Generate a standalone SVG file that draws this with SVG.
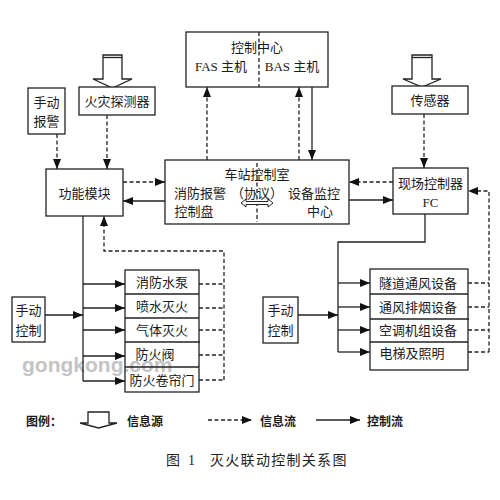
<svg xmlns="http://www.w3.org/2000/svg" width="500" height="500" viewBox="0 0 500 500">
<style>
.box{fill:#fff;stroke:#222;stroke-width:1.3}
.t{font-family:"Liberation Serif","Noto Sans CJK SC",serif;font-size:13px;fill:#1a1a1a;text-anchor:middle;dominant-baseline:central}
.s{stroke:#222;stroke-width:1.3;fill:none}
.d{stroke:#222;stroke-width:1.3;fill:none;stroke-dasharray:4,2.5}
.lg{font-family:"Noto Sans CJK SC",sans-serif;font-size:12px;font-weight:bold;fill:#1a1a1a;dominant-baseline:central}
</style>
<defs>
<marker id="ah" markerUnits="userSpaceOnUse" markerWidth="10" markerHeight="10" viewBox="0 0 10 10" refX="10" refY="5" orient="auto">
<path d="M0,1 L10,5 L0,9 Z" fill="#111"/>
</marker>
</defs>
<rect width="500" height="500" fill="#fff"/>

<g id="control-center">
<rect class="box" x="186" y="32" width="142" height="55"/>
<line class="d" x1="259" y1="32" x2="259" y2="87"/>
<text class="t" x="257" y="47">控制中心</text>
<text class="t" x="221" y="66">FAS 主机</text>
<text class="t" x="292" y="66">BAS 主机</text>
</g>

<g id="source-fire">
<path class="box" d="M103,55 H122 V79 H132 L112.5,88 L93,79 H103 Z"/>
<line class="s" x1="103" y1="57.5" x2="122" y2="57.5" stroke-width="1.5"/>
</g>
<g id="source-sensor">
<path class="box" d="M412,55 H432 V79 H441 L422,87 L403,79 H412 Z"/>
<line class="s" x1="412" y1="57.5" x2="432" y2="57.5" stroke-width="1.5"/>
</g>

<g id="manual-alarm">
<rect class="box" x="28" y="88" width="37" height="46"/>
<text class="t" x="46.5" y="102">手动</text>
<text class="t" x="46.5" y="121">报警</text>
</g>

<g id="fire-detector">
<rect class="box" x="79" y="87" width="76" height="28"/>
<text class="t" x="117" y="101" font-size="13.5">火灾探测器</text>
</g>

<g id="sensor">
<rect class="box" x="392" y="86" width="76" height="28"/>
<text class="t" x="430" y="100">传感器</text>
</g>

<g id="function-module">
<rect class="box" x="46" y="169" width="77" height="47"/>
<text class="t" x="84.5" y="193">功能模块</text>
</g>

<g id="station-control">
<rect class="box" x="165" y="160" width="184" height="64"/>
<line class="d" x1="257" y1="163" x2="257" y2="222"/>
<text class="t" x="257" y="174">车站控制室</text>
<text class="t" x="200" y="193">消防报警</text>
<text class="t" x="194" y="211">控制盘</text>
<text class="t" x="257" y="193">（协议）</text>
<path d="M241,203 L246,199 V201.5 H268 V199 L273,203 L268,207 V204.5 H246 V207 Z" fill="#fff" stroke="#222" stroke-width="1"/>
<text class="t" x="314" y="193">设备监控</text>
<text class="t" x="320" y="211">中心</text>
</g>

<g id="field-controller">
<rect class="box" x="393" y="168" width="75" height="46"/>
<text class="t" x="430.5" y="183">现场控制器</text>
<text class="t" x="430.5" y="202">FC</text>
</g>

<g id="manual-control-left">
<rect class="box" x="12" y="297" width="33" height="45"/>
<text class="t" x="28.5" y="310">手动</text>
<text class="t" x="28.5" y="330">控制</text>
</g>

<g id="manual-control-right">
<rect class="box" x="263" y="297" width="35" height="46"/>
<text class="t" x="280.5" y="310">手动</text>
<text class="t" x="280.5" y="330">控制</text>
</g>

<text x="22" y="364" font-family="Liberation Sans,sans-serif" font-size="21" font-weight="bold" fill="#c4c4c4" dominant-baseline="central">gongkong.com</text>

<g id="fire-devices">
<rect x="125" y="270" width="74" height="122" fill="none" stroke="#222" stroke-width="1.3"/>
<line class="s" x1="125" y1="294" x2="199" y2="294"/>
<line class="s" x1="125" y1="318" x2="199" y2="318"/>
<line class="s" x1="125" y1="342" x2="200" y2="342"/>
<line class="s" x1="125" y1="367" x2="199" y2="367"/>
<text class="t" x="162" y="282">消防水泵</text>
<text class="t" x="162" y="306">喷水灭火</text>
<text class="t" x="162" y="330">气体灭火</text>
<text class="t" x="155" y="354">防火阀</text>
<text class="t" x="162" y="380">防火卷帘门</text>
</g>

<g id="bas-devices">
<rect class="box" x="370" y="269" width="98" height="101"/>
<line class="s" x1="370" y1="294" x2="468" y2="294"/>
<line class="s" x1="370" y1="319" x2="469" y2="319"/>
<line class="s" x1="370" y1="342" x2="468" y2="342"/>
<text class="t" x="418" y="283">隧道通风设备</text>
<text class="t" x="418" y="307">通风排烟设备</text>
<text class="t" x="418" y="330">空调机组设备</text>
<text class="t" x="412" y="353">电梯及照明</text>
</g>

<g id="connectors">
<line class="d" x1="57" y1="134" x2="57" y2="169" marker-end="url(#ah)"/>
<line class="d" x1="107" y1="115" x2="107" y2="169" marker-end="url(#ah)"/>
<line class="d" x1="424" y1="114" x2="424" y2="168" marker-end="url(#ah)"/>
<line class="d" x1="207" y1="160" x2="207" y2="87" marker-end="url(#ah)"/>
<line class="d" x1="299" y1="160" x2="299" y2="87" marker-end="url(#ah)"/>
<line class="s" x1="312" y1="87" x2="312" y2="160" marker-end="url(#ah)"/>
<line class="d" x1="123" y1="182" x2="165" y2="182" marker-end="url(#ah)"/>
<line class="s" x1="165" y1="201" x2="123" y2="201" marker-end="url(#ah)"/>
<line class="d" x1="393" y1="182" x2="349" y2="182" marker-end="url(#ah)"/>
<line class="s" x1="349" y1="200" x2="393" y2="200" marker-end="url(#ah)"/>
<line class="s" x1="83" y1="216" x2="83" y2="381"/>
<line class="s" x1="83" y1="284" x2="125" y2="284" marker-end="url(#ah)"/>
<line class="s" x1="83" y1="308" x2="125" y2="308" marker-end="url(#ah)"/>
<line class="s" x1="83" y1="330" x2="125" y2="330" marker-end="url(#ah)"/>
<line class="s" x1="83" y1="356" x2="125" y2="356" marker-end="url(#ah)"/>
<line class="s" x1="83" y1="381" x2="125" y2="381" marker-end="url(#ah)"/>
<line class="s" x1="45" y1="315" x2="83" y2="315" marker-end="url(#ah)"/>
<path class="d" d="M199,284 H224 M199,308 H224 M199,330 H224 M199,355 H224 M199,380 H224"/>
<path class="d" d="M224,380 V251 H104 V216" marker-end="url(#ah)"/>
<path class="s" d="M425,214 V242 H338 V352"/>
<line class="s" x1="338" y1="283" x2="370" y2="283" marker-end="url(#ah)"/>
<line class="s" x1="338" y1="307" x2="370" y2="307" marker-end="url(#ah)"/>
<line class="s" x1="338" y1="330" x2="370" y2="330" marker-end="url(#ah)"/>
<line class="s" x1="338" y1="352" x2="370" y2="352" marker-end="url(#ah)"/>
<line class="s" x1="298" y1="315" x2="338" y2="315" marker-end="url(#ah)"/>
<path class="d" d="M468,283 H489 M468,307 H489 M468,330 H489 M468,352 H489"/>
<path class="d" d="M489,352 V191 H468" marker-end="url(#ah)"/>
</g>

<g id="legend">
<text class="lg" x="26" y="420">图例：</text>
<path d="M80,423 H88 V412 H109 V423 H117 L98.5,428 Z" fill="#fff" stroke="#222" stroke-width="1.3"/>
<text class="lg" x="127" y="420">信息源</text>
<line class="d" x1="208" y1="420" x2="252" y2="420" marker-end="url(#ah)"/>
<text class="lg" x="260" y="420">信息流</text>
<line class="s" x1="316" y1="420" x2="360" y2="420" marker-end="url(#ah)"/>
<text class="lg" x="367" y="420">控制流</text>
</g>

<g id="caption" font-family="Liberation Serif,Noto Sans CJK SC,serif" font-size="14" fill="#222" dominant-baseline="central">
<text x="166" y="460">图</text>
<text x="188" y="460">1</text>
<text x="210" y="460" letter-spacing="1.3">灭火联动控制关系图</text>
</g>
</svg>
